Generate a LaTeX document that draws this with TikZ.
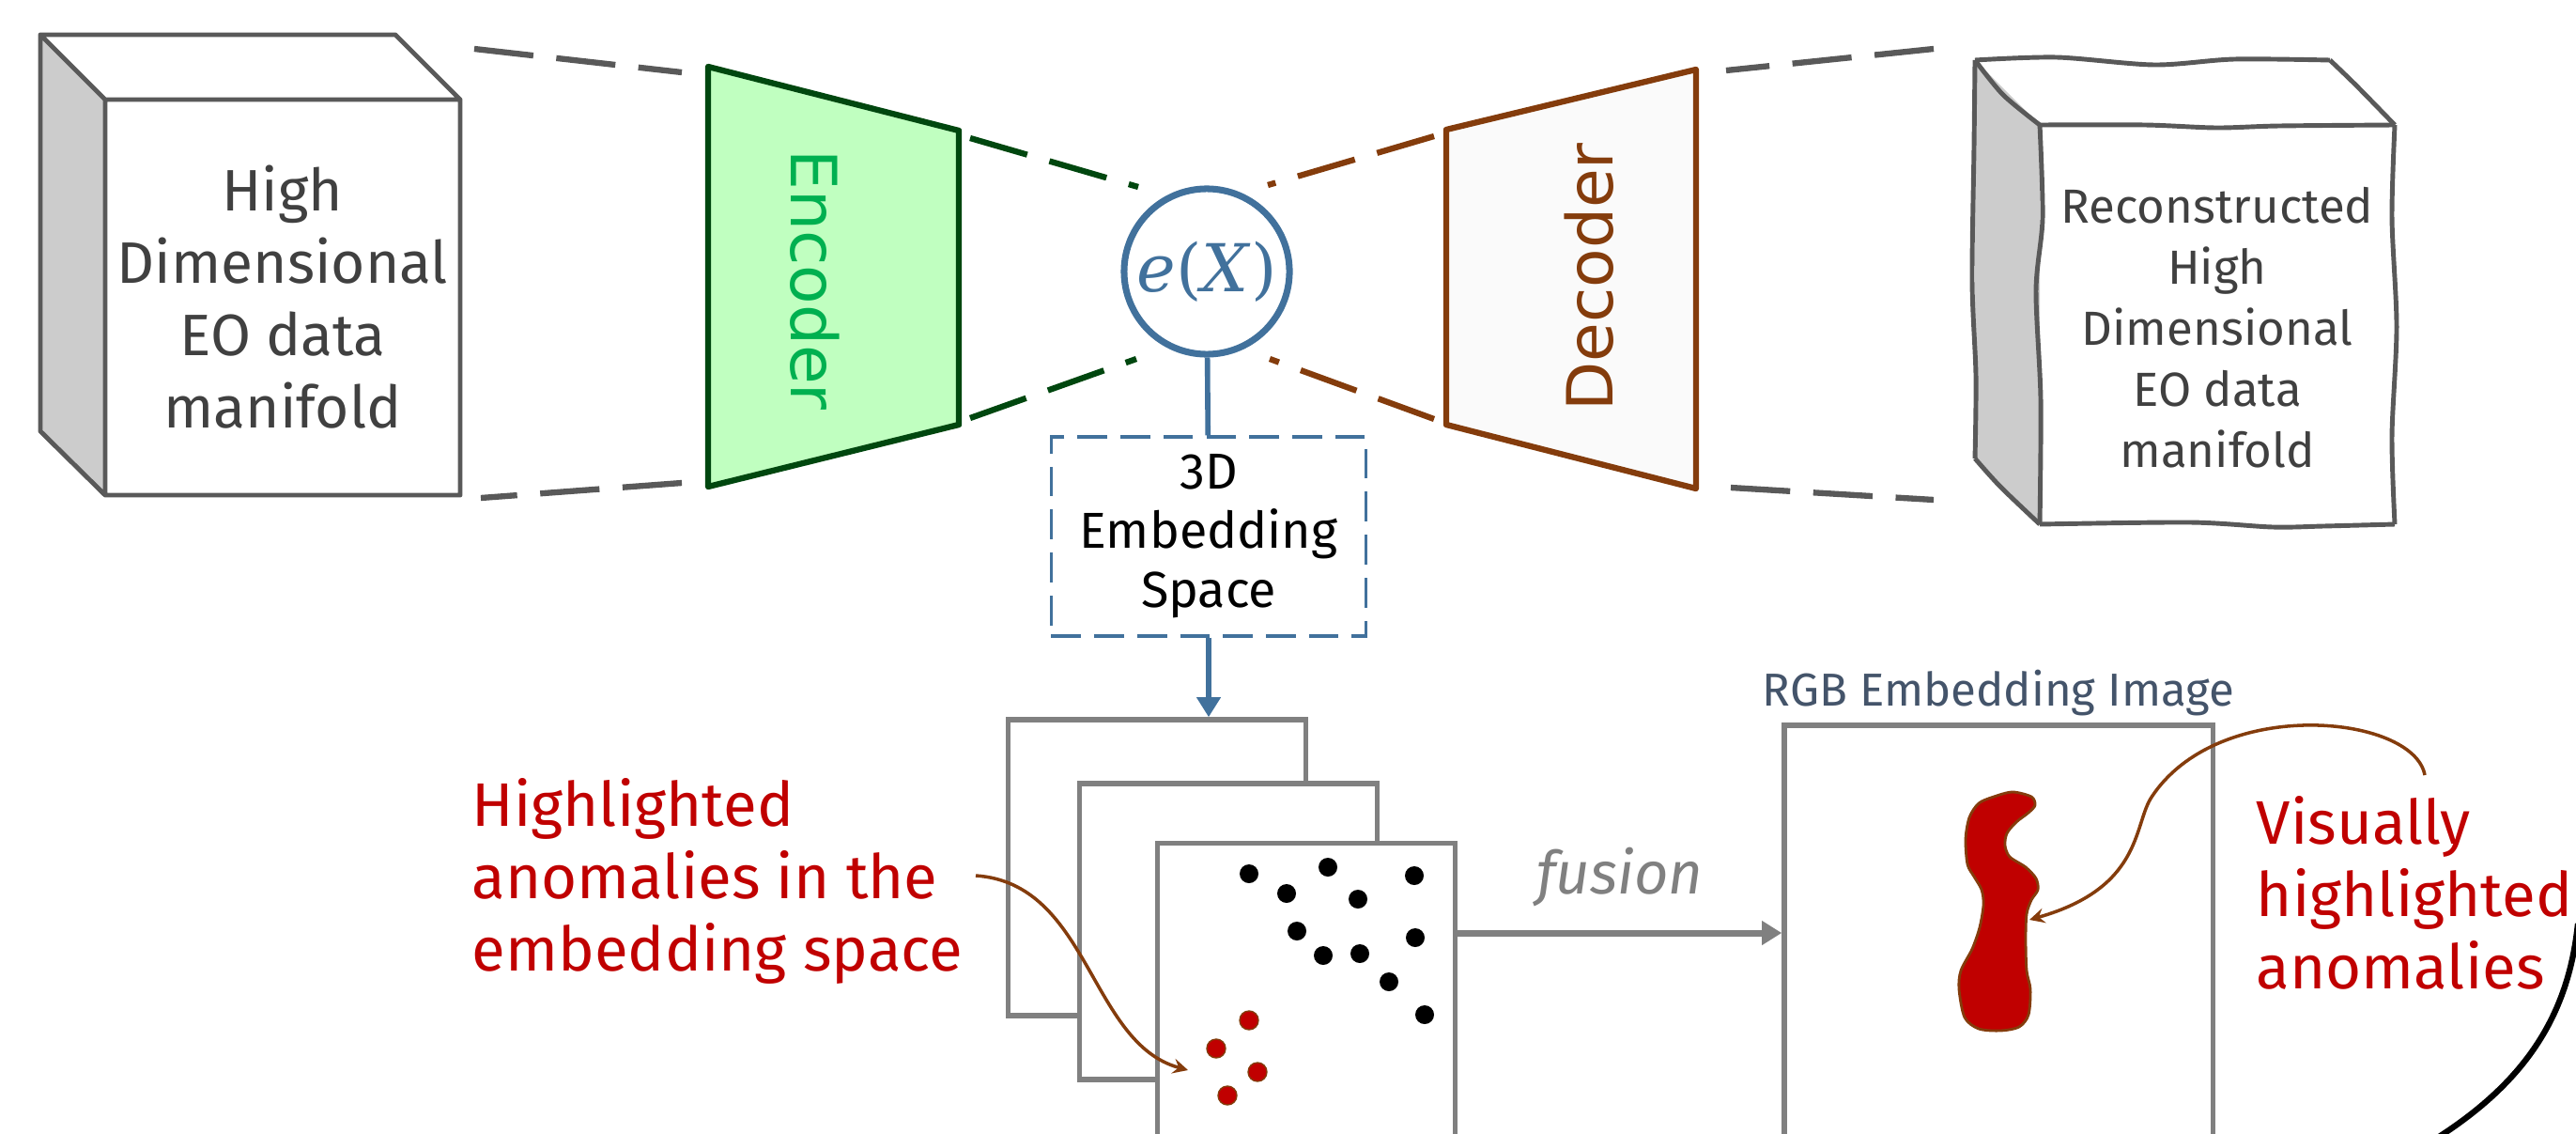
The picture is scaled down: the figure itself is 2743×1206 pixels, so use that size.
\documentclass[tikz,border=0pt]{standalone}
\usepackage{fontspec}
\setmainfont{Fira Sans}
\newfontfamily\verdfont{DejaVu Sans}
\newfontfamily\cambfont{DejaVu Serif}
\usepackage{tikz}
\usetikzlibrary{shapes,arrows,arrows.meta,positioning}

\definecolor{cubegray}{HTML}{595959}
\definecolor{cubeside}{HTML}{CCCCCC}
\definecolor{cubetext}{HTML}{404040}
\definecolor{encgreen}{HTML}{00470F}
\definecolor{encfill}{HTML}{C0FFC0}
\definecolor{enctext}{HTML}{00B050}
\definecolor{decbrown}{HTML}{843C0C}
\definecolor{decfill}{HTML}{FAFAFA}
\definecolor{embblue}{HTML}{41719C}
\definecolor{stackgray}{HTML}{808080}
\definecolor{anored}{HTML}{C00000}
\definecolor{rgbslate}{HTML}{44546A}

\begin{document}
\begin{tikzpicture}[x=0.01cm, y=-0.01cm,
    cube/.style={draw=cubegray, line width=1.4pt, line join=round},
    link/.style={line width=1.8pt, dash pattern=on 18pt off 7pt},
    coder/.style={line width=1.8pt, line join=round},
    layer/.style={rectangle, draw=stackgray, line width=1.5pt, fill=white, minimum width=3.17cm, minimum height=3.15cm},
    anno/.style={text=anored, align=left, font=\fontsize{18.6}{21.8}\selectfont, inner sep=0pt},
    pointer/.style={draw=decbrown, line width=1pt, ->, >=stealth},
    arrow/.style={line width=1.6pt, -{Triangle[length=6pt,width=7pt]}}]

    \useasboundingbox (0,0) rectangle (2743,1206);
    \clip (0,0) rectangle (2743,1206);

    \fill[cubeside] (43,37) -- (112,106) -- (112,527) -- (43,459) -- cycle;
    \draw[cube] (43,37) -- (421,37) -- (490,106) -- (490,527) -- (112,527) -- (43,459) -- cycle
        (43,37) -- (112,106) -- (490,106) (112,106) -- (112,527);
    \node[text=cubetext, align=center, font=\fontsize{17.7}{21.9}\selectfont] (src) at (301,316) {High\\Dimensional\\EO data\\manifold};

    \draw[coder, draw=encgreen, fill=encfill] (754,71) -- (1021,139) -- (1021,452) -- (754,518) -- cycle;
    \node[rotate=-90, text=enctext, font=\verdfont\fontsize{19.3}{23}\selectfont] (enc) at (868,298) {Encoder};

    \draw[coder, draw=decbrown, fill=decfill] (1540,138) -- (1806,74) -- (1806,520) -- (1540,452) -- cycle;
    \node[rotate=90, text=decbrown, font=\verdfont\fontsize{19.3}{23}\selectfont] (dec) at (1692,295) {Decoder};

    \node[circle, draw=embblue, line width=2pt, minimum size=1.76cm, inner sep=0pt, text=embblue, font=\cambfont\fontsize{20}{24}\selectfont] (ex) at (1285,289) {\textit{e}(\textit{X})};

    \fill[cubeside] (2103,64) -- (2172,133) -- (2172,558) -- (2103,488) -- cycle;
    \draw[cube] plot[smooth] coordinates {(2103,64) (2190,61) (2294,69) (2379,63) (2481,64)};
    \draw[cube] plot[smooth] coordinates {(2481,64) (2509,91) (2550,133)};
    \draw[cube] plot[smooth] coordinates {(2103,64) (2133,101) (2172,133)};
    \draw[cube] plot[smooth] coordinates {(2172,133) (2284,133) (2360,136) (2427,134) (2550,133)};
    \draw[cube] plot[smooth] coordinates {(2103,64) (2102,155) (2100,300) (2104,400) (2103,488)};
    \draw[cube] plot[smooth] coordinates {(2103,488) (2130,518) (2172,558)};
    \draw[cube] plot[smooth] coordinates {(2172,133) (2175,232) (2168,309) (2173,425) (2172,558)};
    \draw[cube] plot[smooth] coordinates {(2550,133) (2547,232) (2552,348) (2547,464) (2550,558)};
    \draw[cube] plot[smooth] coordinates {(2172,558) (2332,556) (2420,561) (2474,560) (2550,558)};
    \node[text=cubetext, align=center, font=\fontsize{14.5}{18.5}\selectfont] (rec) at (2361,349) {Reconstructed\\High\\Dimensional\\EO data\\manifold};

    \coordinate (src-t) at (505,52);
    \coordinate (enc-lt) at (726,77);
    \coordinate (enc-lb) at (726,514);
    \coordinate (src-b) at (512,530);
    \coordinate (enc-rt) at (1033,147);
    \coordinate (ex-lt) at (1212,199);
    \coordinate (enc-rb) at (1033,445);
    \coordinate (ex-lb) at (1210,382);
    \coordinate (dec-lt) at (1527,145);
    \coordinate (ex-rt) at (1350,197);
    \coordinate (dec-lb) at (1527,446);
    \coordinate (ex-rb) at (1352,382);
    \coordinate (rec-t) at (2059,52);
    \coordinate (dec-rt) at (1838,75);
    \coordinate (dec-rb) at (1843,519);
    \coordinate (rec-b) at (2059,532);

    \draw[link, cubegray] (src-t) -- (enc-lt);
    \draw[link, cubegray] (enc-lb) -- (src-b);
    \draw[link, encgreen] (enc-rt) -- (ex-lt);
    \draw[link, encgreen] (enc-rb) -- (ex-lb);
    \draw[link, decbrown] (dec-lt) -- (ex-rt);
    \draw[link, decbrown] (dec-lb) -- (ex-rb);
    \draw[link, cubegray] (rec-t) -- (dec-rt);
    \draw[link, cubegray] (dec-rb) -- (rec-b);

    \node[draw=embblue, dash pattern=on 9pt off 4pt, line width=0.9pt, minimum width=3.35cm, minimum height=2.12cm, align=center, font=\fontsize{15.3}{17.9}\selectfont] (emb) at (1287,571) {3D\\Embedding\\Space};
    \draw[embblue, line width=1.6pt] (ex) -- (emb);

    \node[layer] (back) at (1232,923.5) {};
    \node[layer] (mid) at (1308,991.5) {};
    \node[layer] (front) at (1391,1055) {};
    \draw[arrow, embblue] (emb.south) -- (emb.south |- back.north);

    \fill (1330,930) circle (1mm) (1414,923) circle (1mm) (1506,932) circle (1mm)
        (1370,951) circle (1mm) (1446,957) circle (1mm) (1381,991) circle (1mm)
        (1507,998) circle (1mm) (1409,1017) circle (1mm) (1448,1015) circle (1mm)
        (1479,1045) circle (1mm) (1517,1080) circle (1mm);
    \filldraw[fill=anored, draw=decbrown, line width=0.4pt] (1330,1086) circle (1mm) (1295,1116) circle (1mm)
        (1339,1141) circle (1mm) (1307,1166) circle (1mm);

    \node[rectangle, draw=stackgray, line width=1.5pt, minimum width=4.56cm, minimum height=4.42cm] (rgb) at (2128,993) {};
    \node[above=2pt of rgb, inner sep=0pt, text=rgbslate, font=\fontsize{14}{17}\selectfont] (rgblabel) {RGB Embedding Image};
    \draw[arrow, stackgray, line width=2pt] (front.east |- rgb.west) -- node[above, inner sep=7pt, text=stackgray, font=\itshape\fontsize{18}{22}\selectfont] (fus) {fusion} (rgb.west);

    \filldraw[fill=anored, draw=decbrown, line width=0.8pt] plot[smooth cycle] coordinates {
        (2143,843) (2163,848) (2167,857) (2160,865) (2147,875) (2137,887) (2135,900) (2140,912)
        (2157,923) (2168,935) (2170,947) (2163,958) (2158,973) (2157,1000) (2158,1033) (2162,1053)
        (2160,1080) (2150,1093) (2130,1097) (2107,1095) (2092,1083) (2086,1053) (2088,1033) (2100,1010)
        (2108,987) (2112,963) (2110,947) (2102,933) (2095,920) (2093,893) (2097,870) (2107,855) (2123,848)};

    \node[anno, anchor=base west] (hl) at (502,1033) {Highlighted\\anomalies in the\\embedding space};
    \node[anno, anchor=base west] (vis) at (2402,1052) {Visually\\highlighted\\anomalies};

    \coordinate (hl-from) at (1039,932);
    \coordinate (hl-to) at (1265,1139);
    \coordinate (vis-from) at (2582,825);
    \coordinate (vis-to) at (2161,979);
    \draw[pointer] (hl-from) .. controls (1160,940) and (1160,1110) .. (hl-to);
    \draw[pointer] (vis-from) .. controls (2570,760) and (2360,740) .. (2290,850) .. controls (2272,880) and (2280,945) .. (vis-to);

    \draw[line width=1.8pt] (2745,983) .. controls (2735,1080) and (2690,1150) .. (2597,1210);
\end{tikzpicture}
\end{document}
